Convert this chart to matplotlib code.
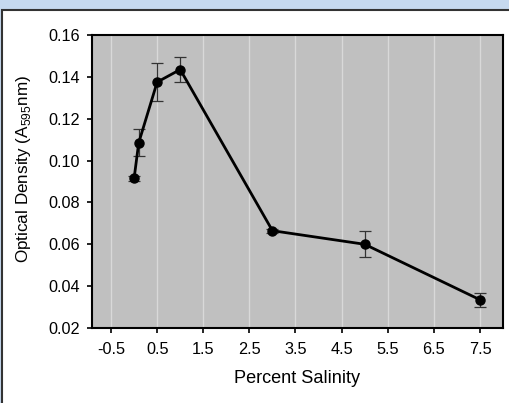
import matplotlib.pyplot as plt
from matplotlib.patches import Rectangle

salinity = [0.0, 0.1, 0.5, 1.0, 3.0, 5.0, 7.5]
density = [0.0915, 0.1085, 0.1375, 0.1435, 0.0665, 0.0600, 0.0335]
errors = [0.0012, 0.0065, 0.0090, 0.0060, 0.0010, 0.0062, 0.0033]
xticks = [-0.5, 0.5, 1.5, 2.5, 3.5, 4.5, 5.5, 6.5, 7.5]
yticks = [0.02, 0.04, 0.06, 0.08, 0.10, 0.12, 0.14, 0.16]

plt.rcParams['font.family'] = ['Liberation Sans', 'DejaVu Sans']

fig = plt.figure(figsize=(5.09, 4.03), dpi=100)
fig.patch.set_facecolor('#c6d9ef')

# white panel with dark frame (runs off the right and bottom edges)
panel = Rectangle((2 / 509, -0.05), 1.1, 1 - 10 / 403 + 0.05,
                  transform=fig.transFigure, facecolor='white',
                  edgecolor='#333333', linewidth=1.5, zorder=-10)
fig.add_artist(panel)

ax = fig.add_axes([92 / 509, 1 - 328 / 403, 411 / 509, 293 / 403])
ax.set_zorder(1)
ax.set_facecolor('#c0c0c0')

ax.set_xlim(-0.913, 8.0)
ax.set_ylim(0.02, 0.16)
ax.set_xticks(xticks)
ax.set_xticklabels([f'{t:g}' for t in xticks])
ax.set_yticks(yticks)
ax.set_yticklabels([f'{t:.2f}' for t in yticks])

ax.grid(axis='x', color='#d9d9d9', linewidth=1)
ax.set_axisbelow(True)

ax.errorbar(salinity, density, yerr=errors, fmt='none', ecolor='#333333',
            elinewidth=0.9, capsize=4, capthick=0.9, zorder=2)
ax.plot(salinity, density, color='black', linewidth=2, marker='o',
        markersize=6.5, zorder=3)

for s in ax.spines.values():
    s.set_linewidth(1.5)
    s.set_color('black')

ax.tick_params(direction='out', length=3.6, width=1.2, labelsize=11.7,
               colors='black')
ax.tick_params(axis='x', pad=6.5)
ax.tick_params(axis='y', pad=5)

ax.set_xlabel('Percent Salinity', fontsize=13.1, labelpad=9)
ax.set_ylabel('Optical Density (A$_{\\mathregular{595}}$nm)', fontsize=12.3)
ax.yaxis.set_label_coords(-0.1435, 0.544)

fig.savefig('out.png', dpi=100, facecolor=fig.get_facecolor())
